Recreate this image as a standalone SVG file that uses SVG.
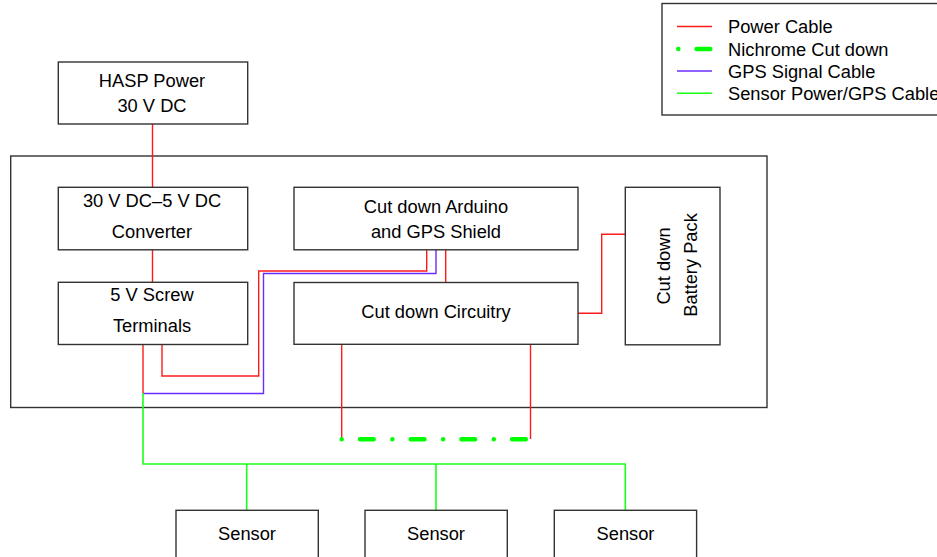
<svg xmlns="http://www.w3.org/2000/svg" width="937" height="557" viewBox="0 0 937 557">
<style>
.box{fill:#fff;stroke:#333;stroke-width:1.4}
.t{font-family:"Liberation Sans",Arial,sans-serif;font-size:18.3px;fill:#000;text-anchor:middle}
.lt{font-family:"Liberation Sans",Arial,sans-serif;font-size:18.3px;fill:#000}
.pw{fill:none;stroke:#ff1a1a;stroke-width:1.4}
.gps{fill:none;stroke:#6a2cff;stroke-width:1.4}
.sn{fill:none;stroke:#1aff1a;stroke-width:1.6}
.ni{fill:none;stroke:#00ff00;stroke-width:4.5;stroke-linecap:round;stroke-dasharray:0 18.3 13.7 18.7}
</style>
<rect width="937" height="557" fill="#fff"/>
<g id="enclosure"><rect class="box" x="10.7" y="156" width="756.3" height="251.5"/></g>
<g id="legend">
<rect class="box" x="662" y="3.5" width="290" height="111.5"/>
<line class="pw" x1="677" y1="26.5" x2="712" y2="26.5"/>
<text class="lt" x="728" y="33">Power Cable</text>
<path class="ni" d="M678.3 49H712"/>
<text class="lt" x="728" y="55.5">Nichrome Cut down</text>
<line class="gps" x1="677" y1="71" x2="712" y2="71"/>
<text class="lt" x="728" y="77.5">GPS Signal Cable</text>
<line class="sn" x1="677" y1="93.3" x2="712" y2="93.3"/>
<text class="lt" x="728" y="99.5">Sensor Power/GPS Cable</text>
</g>
<g id="connectors">
<path class="pw" d="M152.5 124V187M152.5 250V282"/>
<path class="pw" d="M143 344.5V393"/>
<path class="pw" d="M162 344.5V376H258.7V271H426.7V250"/>
<path class="gps" d="M143 393.5H263.5V273.5H436V250"/>
<path class="pw" d="M445.7 250V282.5"/>
<path class="pw" d="M578 313.3H601.7V234.3H625"/>
<path class="pw" d="M341.7 344V439M530.5 344V439"/>
<path class="ni" d="M341.7 439.3H530"/>
<path class="sn" d="M143 393V464H625.3V510M246.7 464V510M436 464V510"/>
</g>
<g id="hasp"><rect class="box" x="58.3" y="62" width="189.4" height="62"/>
<text class="t" x="152" y="86.5">HASP Power</text><text class="t" x="152" y="111.5">30 V DC</text></g>
<g id="converter"><rect class="box" x="58.3" y="187.3" width="189.4" height="62.5"/>
<text class="t" x="152" y="207">30 V DC–5 V DC</text><text class="t" x="152" y="238">Converter</text></g>
<g id="screw"><rect class="box" x="58.3" y="282.3" width="189.4" height="62.2"/>
<text class="t" x="152" y="300.8">5 V Screw</text><text class="t" x="152" y="332.3">Terminals</text></g>
<g id="arduino"><rect class="box" x="294" y="187.3" width="284" height="62.5"/>
<text class="t" x="436" y="212.5">Cut down Arduino</text><text class="t" x="436" y="238">and GPS Shield</text></g>
<g id="circuitry"><rect class="box" x="294" y="282.5" width="284" height="61.8"/>
<text class="t" x="436" y="317.5">Cut down Circuitry</text></g>
<g id="battery"><rect class="box" x="625.3" y="187.3" width="94.7" height="157.5"/>
<text class="t" transform="translate(669.5 266) rotate(-90)">Cut down</text>
<text class="t" transform="translate(696.5 265) rotate(-90)">Battery Pack</text></g>
<g id="sensor1"><rect class="box" x="176" y="510.3" width="142.3" height="50"/>
<text class="t" x="247" y="540.2">Sensor</text></g>
<g id="sensor2"><rect class="box" x="365" y="510.3" width="142.3" height="50"/>
<text class="t" x="436" y="540.2">Sensor</text></g>
<g id="sensor3"><rect class="box" x="554.3" y="510.3" width="142.3" height="50"/>
<text class="t" x="625.5" y="540.2">Sensor</text></g>
</svg>
